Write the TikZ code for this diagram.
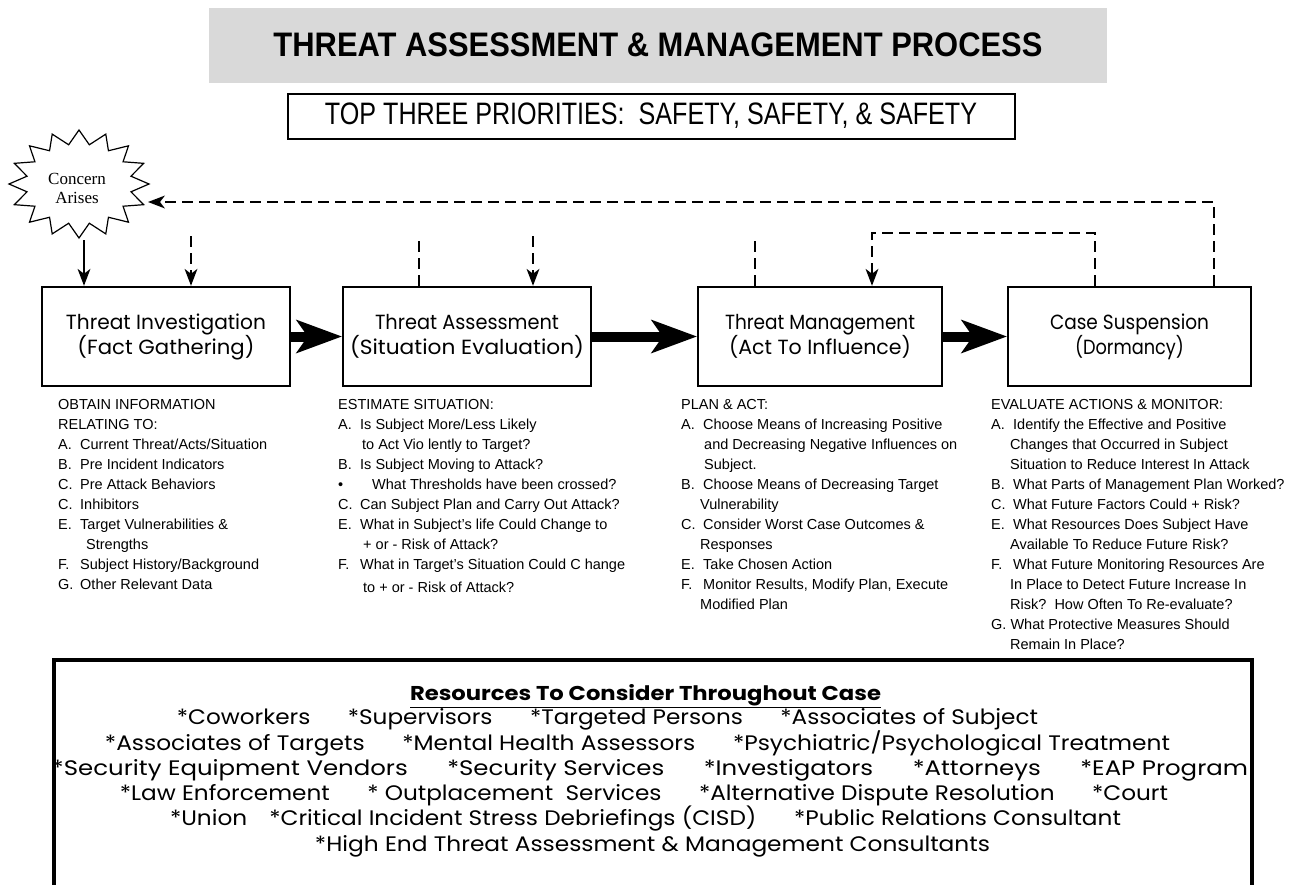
\documentclass[tikz,border=0pt]{standalone}
\usepackage{fontspec}
\usepackage{graphicx}
\setmainfont{Liberation Sans}
\newfontfamily\comicf{Poppins}
\newfontfamily\serifL{Liberation Serif}
\usetikzlibrary{arrows.meta}
\newcommand{\lbl}[1]{\makebox[22pt][l]{#1}}
\newcommand{\fitw}[2]{\resizebox{#1pt}{\height}{#2}}
\begin{document}
\begin{tikzpicture}[x=1pt,y=-1pt,
  procbox/.style={draw, line width=2.5pt, minimum height=99pt, align=center, inner sep=0pt,
    font=\comicf\fontsize{20.5}{25}\selectfont},
  bigarrow/.style={line width=10pt, -{Stealth[length=46pt,width=34pt,inset=12pt,line width=0pt]}},
  dashln/.style={dash pattern=on 11pt off 6pt, line width=2pt},
  smallhead/.style={-{Stealth[length=17pt,width=13pt,inset=5pt,line width=0pt]}},
  coltext/.style={anchor=north west, align=left, inner sep=0pt, font=\fontsize{14.5}{20}\selectfont},
  restext/.style={anchor=base, inner sep=0pt, font=\comicf\fontsize{21}{25}\selectfont}
]
\useasboundingbox (0,0) rectangle (1299,884);

% title
\node[fill=black!15, minimum width=898pt, minimum height=75pt, inner sep=0pt,
  font=\bfseries\fontsize{34}{36}\selectfont] (title) at (658,45) {\fitw{769}{THREAT ASSESSMENT \& MANAGEMENT PROCESS}};
\node[draw, line width=2pt, minimum width=727pt, minimum height=45pt, inner sep=0pt,
  font=\fontsize{31}{34}\selectfont] (prio) at (651,116)
  {\fitw{652}{TOP THREE PRIORITIES:\ \ SAFETY, SAFETY, \& SAFETY}};

% concern star
\draw[line width=1.2pt, line join=miter]
  (79,130) \foreach \i in {1,...,31} {
    -- ({79+ifthenelse(mod(\i,2)==0,70,53)*sin(\i*11.25)},
        {184-ifthenelse(mod(\i,2)==0,54,40)*cos(\i*11.25)}) } -- cycle;
\node[align=center, inner sep=0pt, font=\serifL\fontsize{17}{19}\selectfont] (concern) at (77,188) {Concern\\Arises};
\coordinate (starB) at (84,240);
\coordinate (starR) at (148,202);

% process boxes
\node[procbox, minimum width=248pt] (b1) at (166,336.5) {\fitw{200}{Threat Investigation}\\\fitw{177}{(Fact Gathering)}};
\node[procbox, minimum width=248pt] (b2) at (467,336.5) {\fitw{184}{Threat Assessment}\\\fitw{234}{(Situation Evaluation)}};
\node[procbox, minimum width=244pt] (b3) at (820,336.5) {\fitw{190}{Threat Management}\\\fitw{182}{(Act To Influence)}};
\node[procbox, minimum width=243pt] (b4) at (1129.5,336.5) {\fitw{159}{Case Suspension}\\\fitw{109}{(Dormancy)}};

\draw[bigarrow] (b1.east) -- (b2.west);
\draw[bigarrow] (b2.east) -- (b3.west);
\draw[bigarrow] (b3.east) -- (b4.west);

% connectors
\draw[line width=2pt, smallhead] (starB) -- (starB |- b1.north);
\coordinate (s1) at (191,236);
\coordinate (s2) at (419,236);
\coordinate (s3) at (533,236);
\coordinate (s4) at (755,236);
\draw[dashln, smallhead] (s1) -- (s1 |- b1.north);
\draw[dashln] (s2 |- b2.north) -- (s2);
\draw[dashln, smallhead] (s3) -- (s3 |- b2.north);
\draw[dashln] (s4 |- b3.north) -- (s4);
\coordinate (l1) at (1095,233);
\coordinate (l2) at (872,233);
\draw[dashln, smallhead] (l1 |- b4.north) -- (l1) -- (l2) -- (l2 |- b3.north);
\coordinate (f1) at (1214,202);
\draw[dashln, smallhead] (f1 |- b4.north) -- (f1) -- (starR);

% columns
\node[coltext] (c1) at (58,399.5) {OBTAIN INFORMATION\\
RELATING TO:\\
\lbl{A.}Current Threat/Acts/Situation\\
\lbl{B.}Pre Incident Indicators\\
\lbl{C.}Pre Attack Behaviors\\
\lbl{C.}Inhibitors\\
\lbl{E.}Target Vulnerabilities \&\\
\hspace*{28pt}Strengths\\
\lbl{F.}Subject History/Background\\
\lbl{G.}Other Relevant Data};

\node[coltext] (c2) at (338,399.5) {ESTIMATE SITUATION:\\
\lbl{A.}Is Subject More/Less Likely\\
\hspace*{24pt}to Act Vio lently to Target?\\
\lbl{B.}Is Subject Moving to Attack?\\
\makebox[34pt][l]{\textbullet}What Thresholds have been crossed?\\
\lbl{C.}Can Subject Plan and Carry Out Attack?\\
\lbl{E.}What in Subject's life Could Change to\\
\hspace*{25pt}+ or - Risk of Attack?\\
\lbl{F.}What in Target's Situation Could C hange\\[3pt]
\hspace*{25pt}to + or - Risk of Attack?};

\node[coltext] (c3) at (681,399.5) {PLAN \& ACT:\\
\lbl{A.}Choose Means of Increasing Positive\\
\hspace*{23pt}and Decreasing Negative Influences on\\
\hspace*{23pt}Subject.\\
\lbl{B.}Choose Means of Decreasing Target\\
\hspace*{19pt}Vulnerability\\
\lbl{C.}Consider Worst Case Outcomes \&\\
\hspace*{19pt}Responses\\
\lbl{E.}Take Chosen Action\\
\lbl{F.}Monitor Results, Modify Plan, Execute\\
\hspace*{19pt}Modified Plan};

\node[coltext] (c4) at (991,399.5) {EVALUATE ACTIONS \& MONITOR:\\
\lbl{A.}Identify the Effective and Positive\\
\hspace*{19pt}Changes that Occurred in Subject\\
\hspace*{19pt}Situation to Reduce Interest In Attack\\
\lbl{B.}What Parts of Management Plan Worked?\\
\lbl{C.}What Future Factors Could + Risk?\\
\lbl{E.}What Resources Does Subject Have\\
\hspace*{19pt}Available To Reduce Future Risk?\\
\lbl{F.}What Future Monitoring Resources Are\\
\hspace*{19pt}In Place to Detect Future Increase In\\
\hspace*{19pt}Risk?\ \ How Often To Re-evaluate?\\
G.\ What Protective Measures Should\\
\hspace*{19pt}Remain In Place?};

% resources box
\draw[line width=4pt] (54,895) -- (54,660) -- (1252,660) -- (1252,895);
\node[restext, font=\comicf\bfseries\fontsize{20}{25}\selectfont] (r0) at (645.5,700) {\fitw{471}{\underline{Resources To Consider Throughout Case}}};
\node[restext] (r1) at (607.5,724.5) {\fitw{861}{*Coworkers\hspace{34pt}*Supervisors\hspace{34pt}*Targeted Persons\hspace{34pt}*Associates of Subject}};
\node[restext] (r2) at (637.5,750) {\fitw{1065}{*Associates of Targets\hspace{34pt}*Mental Health Assessors\hspace{34pt}*Psychiatric/Psychological Treatment}};
\node[restext] (r3) at (650,775.5) {\fitw{1196}{*Security Equipment Vendors\hspace{34pt}*Security Services\hspace{34pt}*Investigators\hspace{34pt}*Attorneys\hspace{34pt}*EAP Program}};
\node[restext] (r4) at (644,800.5) {\fitw{1048}{*Law Enforcement\hspace{34pt}* Outplacement\ \ Services\hspace{34pt}*Alternative Dispute Resolution\hspace{34pt}*Court}};
\node[restext] (r5) at (645.5,825.5) {\fitw{951}{*Union\hspace{20pt}*Critical Incident Stress Debriefings (CISD)\hspace{34pt}*Public Relations Consultant}};
\node[restext] (r6) at (652.5,851) {\fitw{675}{*High End Threat Assessment \& Management Consultants}};
\end{tikzpicture}
\end{document}
